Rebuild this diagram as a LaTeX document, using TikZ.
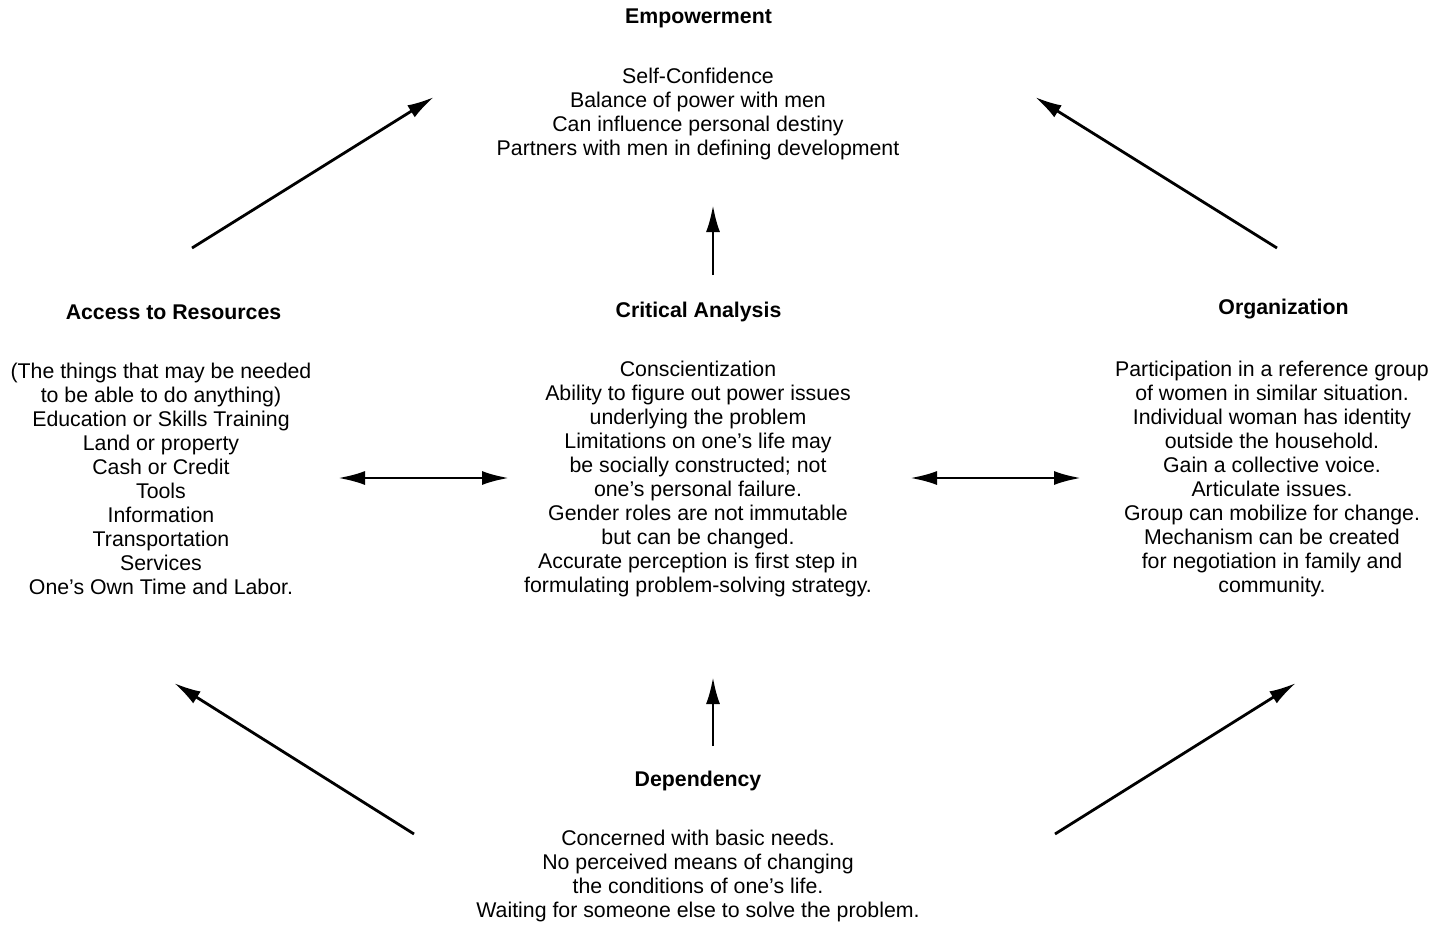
\documentclass[tikz,border=0pt]{standalone}
\usepackage{fontspec}
\setmainfont{Liberation Sans}
\usetikzlibrary{arrows.meta}
\tikzset{
  ttl/.style={font=\fontsize{21.3}{24}\selectfont\bfseries, align=center, inner sep=0pt},
  body/.style={font=\fontsize{21.3}{24}\selectfont, align=center, inner sep=0pt},
  arr/.style={line width=2.8pt, -{Latex[length=27pt,width=14pt]}},
  darr/.style={line width=2.8pt, {Latex[length=27pt,width=14pt]}-{Latex[length=27pt,width=14pt]}}
}
\begin{document}
\begin{tikzpicture}[x=1pt,y=-1pt]
\useasboundingbox (0,0) rectangle (1435,924);
% titles
\node[ttl] (empT) at (698.5,18) {Empowerment};
\node[ttl] (accT) at (173.5,312) {Access to Resources};
\node[ttl] (criT) at (698.5,312) {Critical Analysis};
\node[ttl] (orgT) at (1283.5,309) {Organization};
\node[ttl] (depT) at (698,781) {Dependency};
% bodies
\node[body] (empB) at (698,114) {Self-Confidence\\Balance of power with men\\Can influence personal destiny\\Partners with men in defining development};
\node[body] (accB) at (161,479) {(The things that may be needed\\to be able to do anything)\\Education or Skills Training\\Land or property\\Cash or Credit\\Tools\\Information\\Transportation\\Services\\One’s Own Time and Labor.};
\node[body] (criB) at (698,479) {Conscientization\\Ability to figure out power issues\\underlying the problem\\Limitations on one’s life may\\be socially constructed; not\\one’s personal failure.\\Gender roles are not immutable\\but can be changed.\\Accurate perception is first step in\\formulating problem-solving strategy.};
\node[body] (orgB) at (1272,479) {Participation in a reference group\\of women in similar situation.\\Individual woman has identity\\outside the household.\\Gain a collective voice.\\Articulate issues.\\Group can mobilize for change.\\Mechanism can be created\\for negotiation in family and\\community.};
\node[body] (depB) at (698,875.5) {Concerned with basic needs.\\No perceived means of changing\\the conditions of one’s life.\\Waiting for someone else to solve the problem.};
% arrow endpoints
\coordinate (c1a) at (713,275); \coordinate (c1b) at (713,205);
\coordinate (c2a) at (713,746); \coordinate (c2b) at (713,677);
\coordinate (h1a) at (338,478); \coordinate (h1b) at (509,478);
\coordinate (h2a) at (910,478); \coordinate (h2b) at (1081,478);
\coordinate (d1a) at (192,248); \coordinate (d1b) at (434,97);
\coordinate (d2a) at (1277,248); \coordinate (d2b) at (1035,97);
\coordinate (d3a) at (414,834); \coordinate (d3b) at (174,683);
\coordinate (d4a) at (1055,834); \coordinate (d4b) at (1296,683);
\draw[arr] (c1a) -- (c1b);
\draw[arr] (c2a) -- (c2b);
\draw[darr] (h1a) -- (h1b);
\draw[darr] (h2a) -- (h2b);
\draw[arr] (d1a) -- (d1b);
\draw[arr] (d2a) -- (d2b);
\draw[arr] (d3a) -- (d3b);
\draw[arr] (d4a) -- (d4b);
\end{tikzpicture}
\end{document}
